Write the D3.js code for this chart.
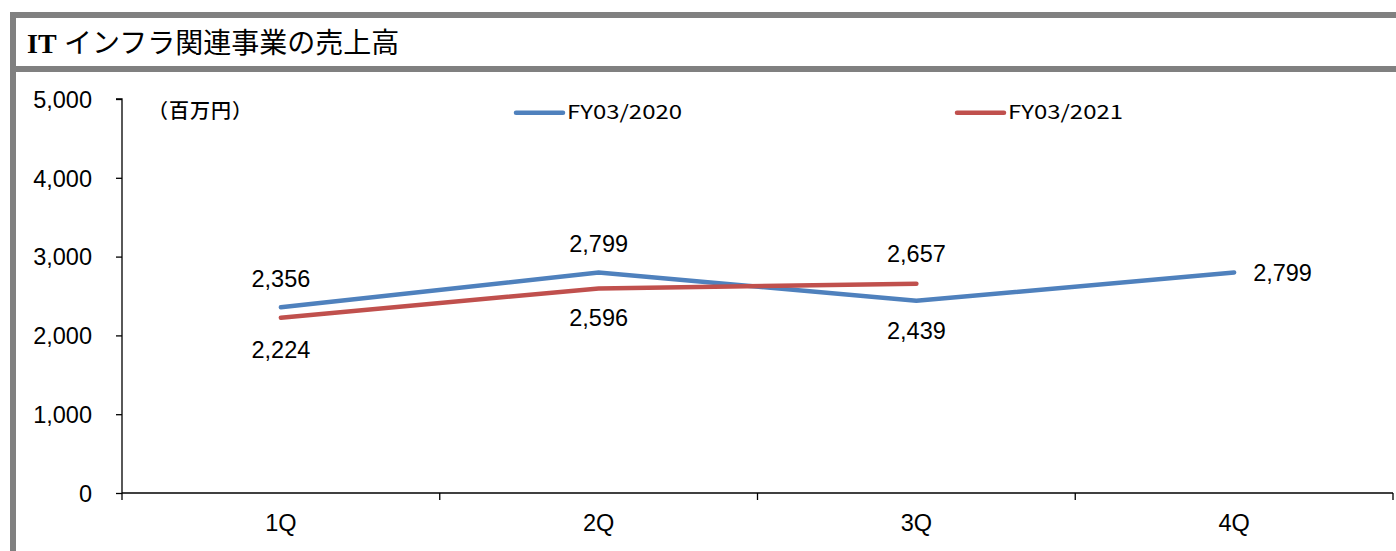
<!DOCTYPE html>
<html>
<head>
<meta charset="utf-8">
<script src="https://cdn.jsdelivr.net/npm/d3@7"></script>
<style>
  html, body { margin: 0; padding: 0; background: #fff; }
  svg { display: block; }
</style>
</head>
<body>
<script>
// Quarterly revenue of the IT infrastructure segment (million yen)
const quarters = ["1Q", "2Q", "3Q", "4Q"];
const seriesNames = ["FY03/2020", "FY03/2021"];
const fy2020 = [2356, 2799, 2439, 2799];
const fy2021 = [2224, 2596, 2657];
const yTicks = [0, 1000, 2000, 3000, 4000, 5000];
const colors = ["#4F81BD", "#C0504D"];

const W = 1396, H = 551;
const svg = d3.select("body").append("svg").attr("width", W).attr("height", H);

// Frame: grey borders around the title strip
const grey = "#808080";
svg.append("rect").attr("x", 10).attr("y", 12).attr("width", W - 10).attr("height", 6).attr("fill", grey);
svg.append("rect").attr("x", 10).attr("y", 66).attr("width", W - 10).attr("height", 6).attr("fill", grey);
svg.append("rect").attr("x", 10).attr("y", 12).attr("width", 6).attr("height", H - 12).attr("fill", grey);

// Title
const title = svg.append("text").attr("y", 53).attr("fill", "#000");
title.append("tspan").attr("x", 27).text("IT")
  .attr("font-family", "'Liberation Serif', serif").attr("font-weight", "bold").attr("font-size", 28);
title.append("tspan").attr("x", 64).text("インフラ関連事業の売上高")
  .attr("font-family", "'Noto Sans CJK JP', sans-serif").attr("font-weight", 400).attr("font-size", 28);

// Scales
const x = d3.scaleBand().domain(quarters).range([122, 1393]).padding(0);
const y = d3.scaleLinear().domain([0, 5000]).range([493, 99]);
const cx = q => x(q) + x.bandwidth() / 2;

const numFont = "'Liberation Sans', Arial, sans-serif";

// Y axis
const yAxis = svg.append("g").attr("transform", "translate(122,0)")
  .call(d3.axisLeft(y).tickValues(yTicks).tickSize(6).tickPadding(24)
    .tickFormat(d3.format(",")));
yAxis.select(".domain").attr("stroke", "#000").attr("stroke-width", 1.3).attr("d", `M-6,${y(5000)}H0V${y(0)}`);
yAxis.selectAll(".tick line").attr("stroke", "#000").attr("stroke-width", 1.3);
yAxis.selectAll(".tick text").attr("font-family", numFont).attr("font-size", 23.5)
  .attr("fill", "#000").attr("dy", "0.35em");

// X axis: ticks at category boundaries
const xAxis = svg.append("g").attr("transform", `translate(0,${y(0)})`);
xAxis.append("line").attr("x1", 122).attr("x2", 1393).attr("y1", 0).attr("y2", 0)
  .attr("stroke", "#000").attr("stroke-width", 1.3);
const bounds = quarters.map(q => x(q)).concat([x.range()[1]]);
xAxis.selectAll("line.tk").data(bounds).join("line").attr("class", "tk")
  .attr("x1", d => d).attr("x2", d => d).attr("y1", 0).attr("y2", 7)
  .attr("stroke", "#000").attr("stroke-width", 1.3);
xAxis.selectAll("text").data(quarters).join("text")
  .attr("x", d => cx(d)).attr("y", 38).attr("text-anchor", "middle")
  .attr("font-family", numFont).attr("font-size", 23.5).attr("fill", "#000")
  .text(d => d);

// Unit label
svg.append("text").attr("x", 148).attr("y", 118)
  .attr("font-family", "'Noto Sans CJK JP', sans-serif").attr("font-size", 20)
  .attr("font-weight", 500).attr("textLength", 104).attr("fill", "#000").text("（百万円）");

// Lines
const line = d3.line().x((d, i) => cx(quarters[i])).y(d => y(d));
[fy2020, fy2021].forEach((s, k) => {
  svg.append("path").datum(s).attr("d", line).attr("fill", "none")
    .attr("stroke", colors[k]).attr("stroke-width", 4.5)
    .attr("stroke-linecap", "round").attr("stroke-linejoin", "miter");
});

// Data labels
const fmt = d3.format(",");
const labels = [];
fy2020.forEach((v, i) => {
  if (i === 3) labels.push({ x: cx(quarters[i]) + 19, y: y(v) + 9, v, anchor: "start" });
  else if (i === 2) labels.push({ x: cx(quarters[i]), y: y(v) + 38, v, anchor: "middle" });
  else labels.push({ x: cx(quarters[i]), y: y(v) - 20, v, anchor: "middle" });
});
fy2021.forEach((v, i) => {
  if (i === 2) labels.push({ x: cx(quarters[i]), y: y(v) - 22, v, anchor: "middle" });
  else labels.push({ x: cx(quarters[i]), y: y(v) + (i === 0 ? 40 : 38), v, anchor: "middle" });
});
svg.selectAll("text.lbl").data(labels).join("text").attr("class", "lbl")
  .attr("x", d => d.x).attr("y", d => d.y).attr("text-anchor", d => d.anchor)
  .attr("font-family", numFont).attr("font-size", 23.5).attr("fill", "#000")
  .text(d => fmt(d.v));

// Legend
const legendX = [516, 957];
seriesNames.forEach((n, k) => {
  const g = svg.append("g");
  g.append("line").attr("x1", legendX[k]).attr("x2", legendX[k] + 47)
    .attr("y1", 112.7).attr("y2", 112.7)
    .attr("stroke", colors[k]).attr("stroke-width", 4.5).attr("stroke-linecap", "round");
  g.append("text").attr("x", legendX[k] + 51).attr("y", 119)
    .attr("font-family", "'Noto Sans CJK JP', sans-serif").attr("font-size", 19)
    .attr("textLength", 115).attr("lengthAdjust", "spacingAndGlyphs")
    .attr("fill", "#000").text(n);
});
</script>
</body>
</html>
